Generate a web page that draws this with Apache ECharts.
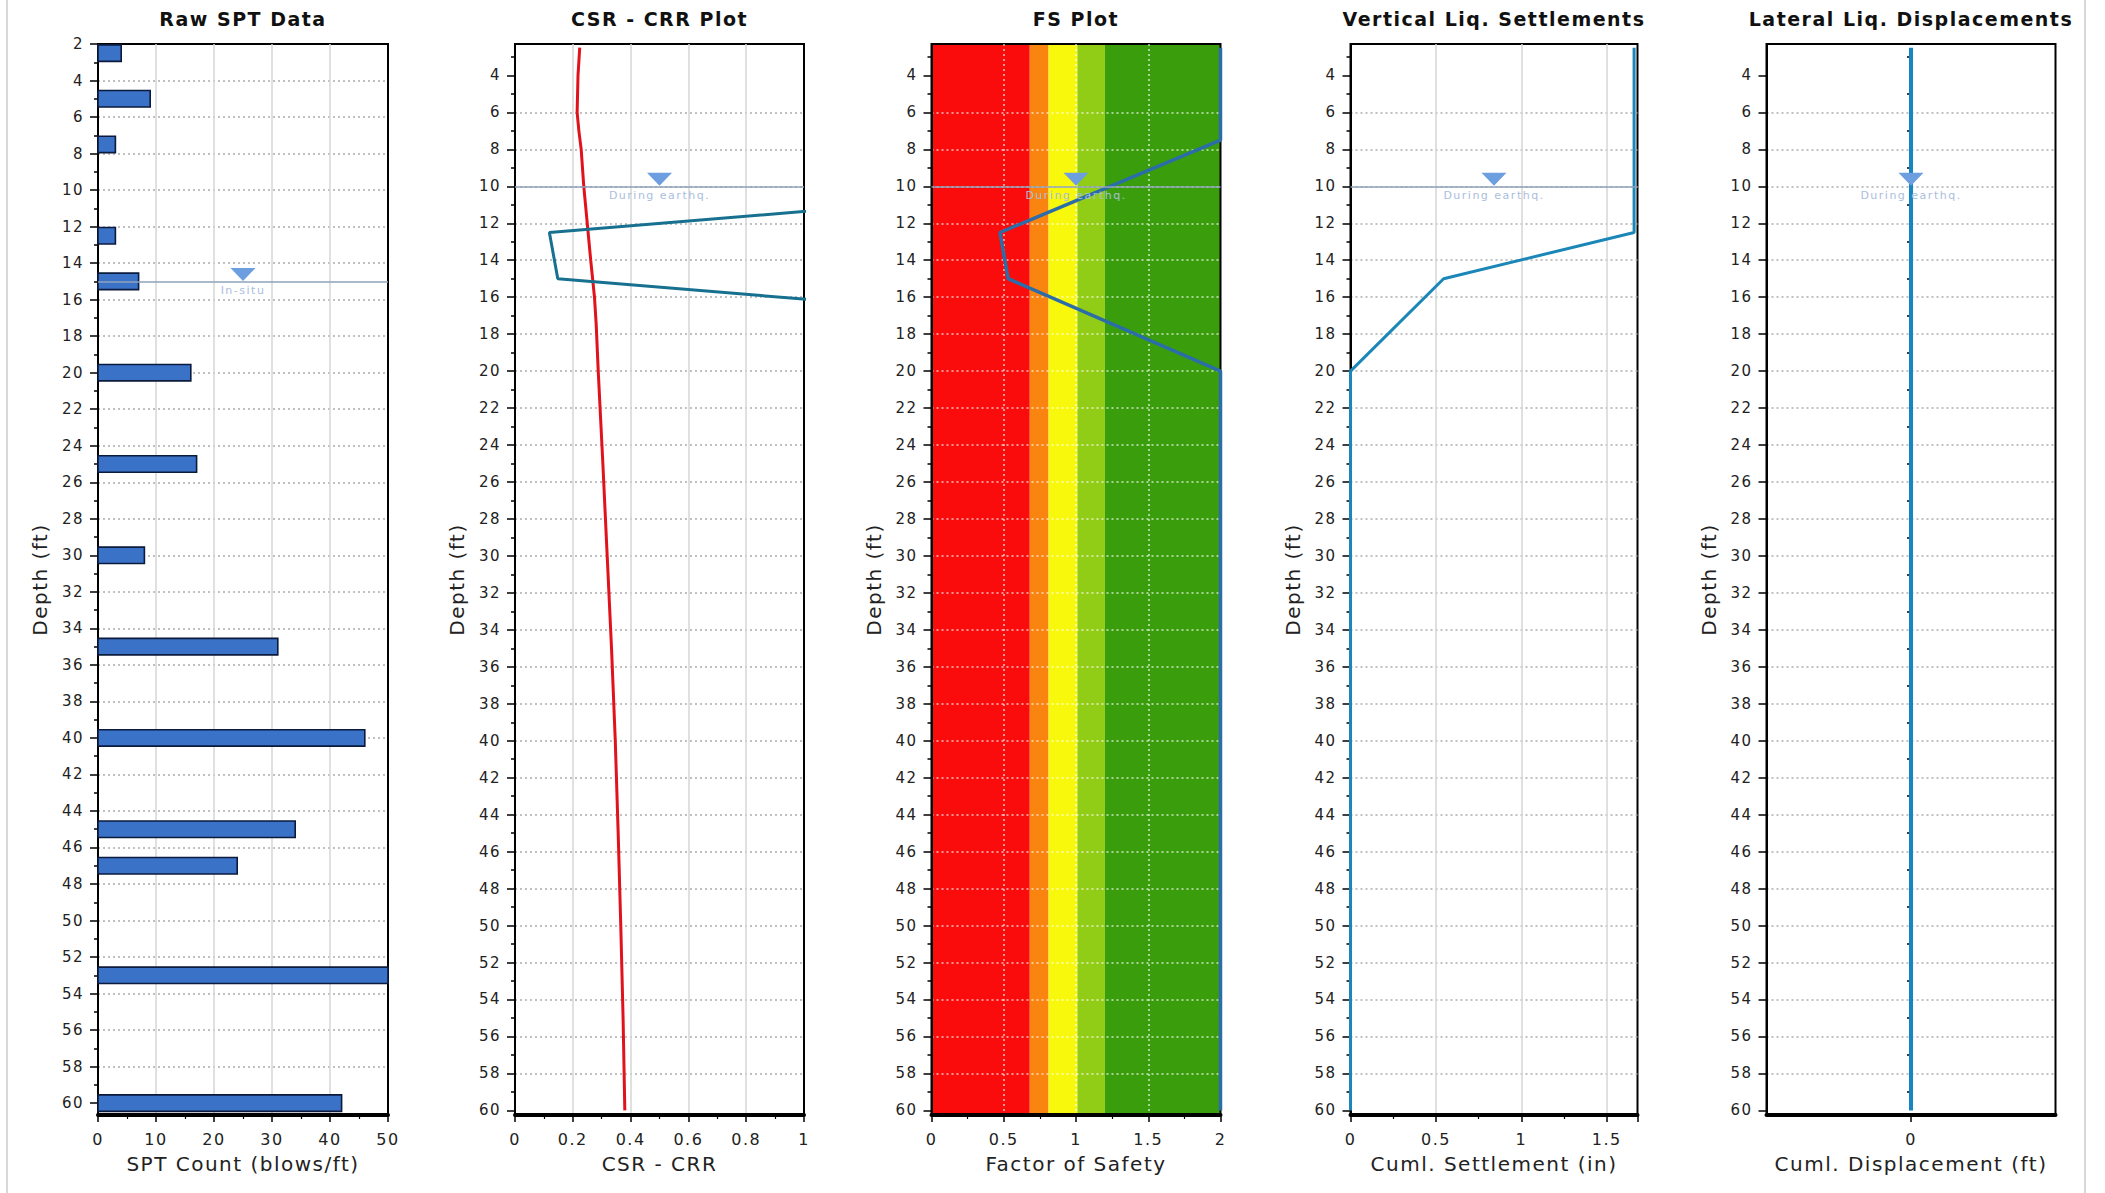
<!DOCTYPE html>
<html>
<head>
<meta charset="utf-8">
<title>Liquefaction analysis summary</title>
<script src="https://cdn.jsdelivr.net/npm/echarts@6/dist/echarts.min.js"></script>
<style>
  html, body { margin: 0; padding: 0; background: #fff; }
  #chart { width: 2105px; height: 1193px; }
  #chart text { letter-spacing: 1.5px; }
</style>
</head>
<body>
<div id="chart"></div>
<script>
// ---- Depth axis ticks (ft) ----
const depthTicksSpt = [2, 4, 6, 8, 10, 12, 14, 16, 18, 20, 22, 24, 26, 28, 30, 32, 34, 36, 38, 40, 42, 44, 46, 48, 50, 52, 54, 56, 58, 60];
const depthTicks = [4, 6, 8, 10, 12, 14, 16, 18, 20, 22, 24, 26, 28, 30, 32, 34, 36, 38, 40, 42, 44, 46, 48, 50, 52, 54, 56, 58, 60];
const depthMinorTicks = [3, 5, 7, 9, 11, 13, 15, 17, 19, 21, 23, 25, 27, 29, 31, 33, 35, 37, 39, 41, 43, 45, 47, 49, 51, 53, 55, 57, 59];

// ---- Raw SPT blow counts ----
const sptDepth = [2.5, 5, 7.5, 12.5, 15, 20, 25, 30, 35, 40, 45, 47, 53, 60];
const sptCount = [4, 9, 3, 3, 7, 16, 17, 8, 31, 46, 34, 24, 50, 42];

// ---- Cyclic stress ratio profile ----
const csrDepth = [2.5, 4, 6, 7, 8, 10, 12, 14, 16, 17.5, 20, 25, 30, 35, 40, 45, 50, 55, 60];
const csrValue = [0.224, 0.218, 0.215, 0.221, 0.229, 0.238, 0.25, 0.262, 0.275, 0.281, 0.288, 0.304, 0.319, 0.334, 0.347, 0.357, 0.366, 0.374, 0.38];

// ---- Results at the calculation depths ----
const calcDepth = [2.5, 5, 7.5, 12.5, 15, 20, 25, 30, 35, 40, 45, 47, 53, 60];
const crrValue = [4, 4, 4, 0.119, 0.148, 4, 4, 4, 4, 4, 4, 4, 4, 4];
const fsValue = [2, 2, 2, 0.474, 0.53, 2, 2, 2, 2, 2, 2, 2, 2, 2];
const settlementValue = [1.66, 1.66, 1.66, 1.66, 0.545, 0, 0, 0, 0, 0, 0, 0, 0, 0];
const lateralValue = [0, 0, 0, 0, 0, 0, 0, 0, 0, 0, 0, 0, 0, 0];

// ---- Ground water ----
const waterInSitu = 15;
const waterDuring = 10;

// ---- Factor of safety classes ----
const fsBandEdges = [0, 0.68, 0.81, 1.01, 1.2, 2];

// ---- Styling ----
const FONT = 'DejaVu Sans';
const bandColors = ['#fa0c0c', '#f98410', '#f8f80c', '#91cc17', '#3a9e0c'];
const gridBoxes = [
  { left: 98, width: 290 },
  { left: 515, width: 289 },
  { left: 931.5, width: 289 },
  { left: 1350.5, width: 287 },
  { left: 1766.5, width: 289 }
];
const plotTop = 44, plotHeight = 1071;
const titles = ['Raw SPT Data', 'CSR - CRR Plot', 'FS Plot', 'Vertical Liq. Settlements', 'Lateral Liq. Displacements'];
const xNames = ['SPT Count (blows/ft)', 'CSR - CRR', 'Factor of Safety', 'Cuml. Settlement (in)', 'Cuml. Displacement (ft)'];
const xRanges = [[0, 50, 10], [0, 1, 0.2], [0, 2, 0.5], [0, 1.68, 0.5], [-1, 1, null]];
const yRanges = [[2, 60.65], [2.3, 60.25], [2.3, 60.25], [2.3, 60.25], [2.3, 60.25]];

const pairs = (xs, ys) => xs.map((x, i) => [x, ys[i]]);

const grids = gridBoxes.map(b => ({
  left: b.left, width: b.width, top: plotTop, height: plotHeight,
  show: true, borderColor: '#000', borderWidth: 2, backgroundColor: 'transparent'
}));

const xAxes = xRanges.map((r, i) => {
  const isFs = i === 2;
  const ax = {
    type: 'value', gridIndex: i, position: 'bottom', min: r[0], max: r[1],
    name: xNames[i], nameLocation: 'middle', nameGap: 39,
    nameTextStyle: { fontFamily: FONT, fontSize: 20, color: '#222' },
    axisLine: { show: true, onZero: false, lineStyle: { color: '#000', width: 4 } },
    axisTick: { show: true, inside: false, length: 7, lineStyle: { color: '#000', width: 1.5 } },
    minorTick: { show: true, splitNumber: 2, length: 4, lineStyle: { color: '#000', width: 1.2 } },
    axisLabel: { fontFamily: FONT, fontSize: 16, color: '#222', margin: 16, showMaxLabel: i !== 3 },
    splitLine: {
      show: true, showMinLine: false, showMaxLine: false,
      lineStyle: isFs ? { color: 'rgba(255,255,255,0.75)', width: 1.5, type: [2, 3] } : { color: '#d6d6d6', width: 1.5 }
    }
  };
  if (r[2] !== null) {
    ax.interval = r[2];
  } else {
    ax.axisTick.customValues = [0];
    ax.axisLabel.customValues = [0];
    ax.minorTick.show = false;
    ax.splitLine.show = false;
  }
  return ax;
});

const yAxes = [];
yRanges.forEach((r, i) => {
  const isFs = i === 2;
  const ticks = i === 0 ? depthTicksSpt : depthTicks;
  yAxes.push({
    type: 'value', gridIndex: i, position: 'left', inverse: true, min: r[0], max: r[1],
    name: 'Depth (ft)', nameLocation: 'middle', nameGap: 48,
    nameTextStyle: { fontFamily: FONT, fontSize: 20, color: '#222' },
    axisLine: { show: true, onZero: false, lineStyle: { color: '#000', width: 2 } },
    axisTick: { show: true, inside: false, length: 8, customValues: ticks, lineStyle: { color: '#000', width: 1.5 } },
    axisLabel: { fontFamily: FONT, fontSize: 15, color: '#222', margin: 14, customValues: ticks },
    splitLine: {
      show: true, showMinLine: false, showMaxLine: false,
      lineStyle: isFs ? { color: 'rgba(255,255,255,0.75)', width: 1.5, type: [2, 3] } : { color: '#acacac', width: 1.5, type: [2, 3] }
    }
  });
  yAxes.push({
    type: 'value', gridIndex: i, position: 'left', inverse: true, min: r[0], max: r[1],
    axisLine: { show: false },
    axisTick: { show: true, inside: false, length: 4, customValues: depthMinorTicks, lineStyle: { color: '#000', width: 1.5 } },
    axisLabel: { show: false },
    splitLine: { show: false }
  });
});

// Water table line, triangle symbol and caption
function waterMarkers(depth, xMid, caption, withLine) {
  const m = {
    markPoint: {
      silent: true, animation: false,
      symbol: 'path://M0,0 L24,0 L12,13 Z', symbolSize: [25, 13], symbolOffset: [0, -7],
      itemStyle: { color: '#6c9ee0' },
      label: { show: true, position: 'bottom', distance: 4, formatter: caption, fontFamily: FONT, fontSize: 11, color: '#aabedc' },
      data: [{ coord: [xMid, depth] }]
    }
  };
  if (withLine) {
    m.markLine = {
      silent: true, animation: false, symbol: 'none',
      lineStyle: { color: '#8ea3ba', width: 1.5, type: 'solid' },
      label: { show: false },
      data: [{ yAxis: depth }]
    };
  }
  return m;
}

const lineBase = { type: 'line', symbol: 'none', clip: true, silent: true, animation: false };

const series = [
  Object.assign({
    type: 'custom', xAxisIndex: 0, yAxisIndex: 0, silent: true, animation: false,
    data: pairs(sptCount, sptDepth),
    encode: { x: 0, y: 1 },
    renderItem(params, api) {
      const v = api.value(0), d = api.value(1);
      const p0 = api.coord([0, d]);
      const p1 = api.coord([v, d]);
      const h = api.size([0, 0.9])[1];
      return {
        type: 'rect',
        shape: { x: p0[0], y: p0[1] - h / 2, width: p1[0] - p0[0], height: h },
        style: { fill: '#3a72c8', stroke: '#0c1a3c', lineWidth: 1.6 }
      };
    }
  }, waterMarkers(waterInSitu, 25, 'In-situ', true)),

  Object.assign({}, lineBase, {
    name: 'CSR', xAxisIndex: 1, yAxisIndex: 2,
    data: pairs(csrValue, csrDepth),
    lineStyle: { color: '#e0121c', width: 3 }
  }),
  Object.assign({}, lineBase, {
    name: 'CRR', xAxisIndex: 1, yAxisIndex: 2,
    data: pairs(crrValue, calcDepth),
    lineStyle: { color: '#17708f', width: 3 }
  }, waterMarkers(waterDuring, 0.5, 'During earthq.', true)),

  {
    type: 'custom', xAxisIndex: 2, yAxisIndex: 4, z: -1, silent: true, animation: false,
    data: fsBandEdges.slice(0, -1).map((e, i) => [e, fsBandEdges[i + 1], i]),
    encode: { x: [0, 1] },
    renderItem(params, api) {
      const cs = params.coordSys;
      const xa = api.coord([api.value(0), yRanges[2][0]])[0];
      const xb = api.coord([api.value(1), yRanges[2][0]])[0];
      return {
        type: 'rect',
        shape: { x: xa, y: cs.y, width: xb - xa, height: cs.height },
        style: { fill: bandColors[api.value(2)] }
      };
    }
  },
  Object.assign({}, lineBase, {
    name: 'FS', xAxisIndex: 2, yAxisIndex: 4,
    data: pairs(fsValue, calcDepth),
    lineStyle: { color: '#2b6da8', width: 3.5 }
  }, waterMarkers(waterDuring, 1, 'During earthq.', true)),

  Object.assign({}, lineBase, {
    name: 'Settlement', xAxisIndex: 3, yAxisIndex: 6,
    data: pairs(settlementValue, calcDepth),
    lineStyle: { color: '#1b86b8', width: 3 }
  }, waterMarkers(waterDuring, 0.84, 'During earthq.', true)),

  Object.assign({}, lineBase, {
    name: 'Lateral', xAxisIndex: 4, yAxisIndex: 8,
    data: pairs(lateralValue, calcDepth),
    lineStyle: { color: '#1585c6', width: 4 }
  }, waterMarkers(waterDuring, 0, 'During earthq.', false))
];

const titleOpts = titles.map((t, i) => ({
  text: t,
  left: gridBoxes[i].left + gridBoxes[i].width / 2,
  textAlign: 'center',
  top: 9, padding: 0,
  textStyle: { fontFamily: FONT, fontSize: 19, fontWeight: 'bold', color: '#111' }
}));

const chart = echarts.init(document.getElementById('chart'), null, { renderer: 'svg' });
chart.setOption({
  backgroundColor: '#fff',
  animation: false,
  textStyle: { fontFamily: FONT },
  title: titleOpts,
  grid: grids,
  xAxis: xAxes,
  yAxis: yAxes,
  series: series,
  graphic: [
    { type: 'line', silent: true, shape: { x1: 7, y1: 0, x2: 7, y2: 1193 }, style: { stroke: '#d8d8d8', lineWidth: 2 } },
    { type: 'line', silent: true, shape: { x1: 2085, y1: 0, x2: 2085, y2: 1193 }, style: { stroke: '#d8d8d8', lineWidth: 2 } }
  ]
});
</script>
</body>
</html>
